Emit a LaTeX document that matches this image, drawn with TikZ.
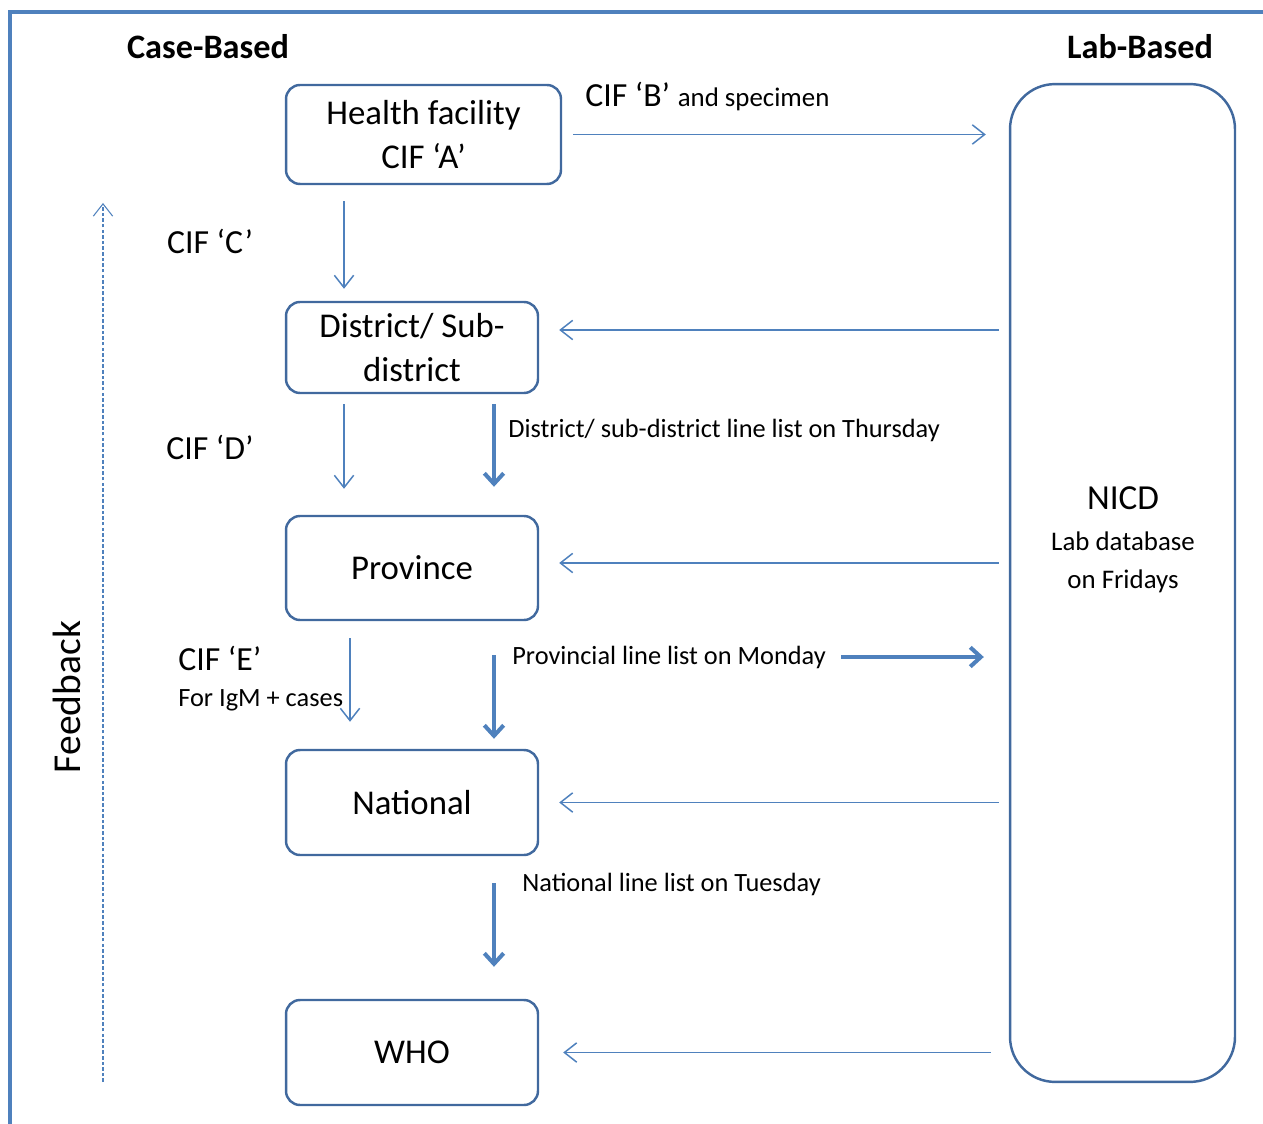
\documentclass[tikz,border=0pt]{standalone}
\usepackage{fontspec}
\setmainfont{Carlito}
\usetikzlibrary{positioning,arrows.meta}
\definecolor{frameblue}{RGB}{79,129,189}
\definecolor{boxblue}{RGB}{65,105,158}
\tikzset{
 stage/.style={draw=boxblue,line width=1.4pt,rounded corners=0.28cm,align=center,font=\fontsize{19.8}{25}\selectfont,inner sep=0pt},
 flow/.style={draw=frameblue,line width=0.85pt,-{Straight Barb[length=7pt,width=11pt]}},
 listflow/.style={draw=frameblue,line width=2.3pt,-{Straight Barb[length=6pt,width=11pt]}},
 cif/.style={font=\fontsize{19.2}{24}\selectfont,inner sep=0pt},
 note/.style={font=\fontsize{15}{18}\selectfont,inner sep=0pt},
 head/.style={font=\bfseries\fontsize{19.5}{24}\selectfont,inner sep=0pt}
}
\begin{document}
\begin{tikzpicture}[x=0.02cm,y=-0.02cm]
 \useasboundingbox (0,0) rectangle (1263,1124);
 \draw[frameblue,line width=2.3pt] (10,1124) -- (10,12) -- (1263,12);

 \node[head] (casehead) at (208,47) {Case-Based};
 \node[head] (labhead) at (1140,47) {Lab-Based};

 \node[stage,minimum width=5.5cm,minimum height=1.98cm] (hf) at (423.5,134.5) {Health facility\\CIF ‘A’};
 \node[stage,minimum width=5.04cm,minimum height=1.82cm] (dist) at (412,347.5) {District/ Sub-\\district};
 \node[stage,minimum width=5.04cm,minimum height=2.08cm] (prov) at (412,568) {Province};
 \node[stage,minimum width=5.04cm,minimum height=2.1cm] (nat) at (412,802.5) {National};
 \node[stage,minimum width=5.04cm,minimum height=2.1cm] (who) at (412,1052.5) {WHO};
 \node[stage,rounded corners=0.9cm,minimum width=4.5cm,minimum height=19.96cm] (nicd) at (1122.5,583) {};
 \node[align=center,font=\fontsize{15.3}{21.5}\selectfont,inner sep=0pt] (nicdtext) at (1123,540) {{\fontsize{20}{24}\selectfont NICD}\\[2pt]Lab database\\on Fridays};

 \node[cif,anchor=west] (cifb) at (585,97) {CIF ‘B’ {\fontsize{15.3}{18}\selectfont and specimen}};
 \node[cif] (cifc) at (210,241) {CIF ‘C’};
 \node[cif] (cifd) at (210,447) {CIF ‘D’};
 \node[cif,anchor=west] (cife) at (178,658) {CIF ‘E’};
 \node[note,anchor=west] (igm) at (178,700) {For IgM + cases};

 \node[note,anchor=west] (distlist) at (508,430) {District/ sub-district line list on Thursday};
 \node[note,anchor=west] (provlist) at (512,657) {Provincial line list on Monday};
 \node[note,anchor=west] (natlist) at (522,884) {National line list on Tuesday};

 \draw[flow,shorten <=0.22cm,shorten >=0.46cm] (hf.east) -- (nicd.west |- hf.east);
 \draw[flow,shorten <=0.32cm,shorten >=0.24cm] ([xshift=-1.36cm]dist.north |- hf.south) -- ([xshift=-1.36cm]dist.north);
 \draw[flow,shorten <=0.2cm,shorten >=0.52cm] ([xshift=-1.36cm]dist.south) -- ([xshift=-1.36cm]prov.north);
 \draw[listflow,shorten <=0.2cm,shorten >=0.56cm] ([xshift=1.64cm]dist.south) -- ([xshift=1.64cm]prov.north);
 \draw[flow,shorten <=0.34cm,shorten >=0.54cm] ([xshift=-1.24cm]prov.south) -- ([xshift=-1.24cm]nat.north);
 \draw[listflow,shorten <=0.68cm,shorten >=0.2cm] ([xshift=1.64cm]prov.south) -- ([xshift=1.64cm]nat.north);
 \draw[listflow,shorten <=0.3cm,shorten >=0.5cm] (provlist.east) -- (nicd.west |- provlist.east);
 \draw[listflow,shorten <=0.54cm,shorten >=0.64cm] ([xshift=1.64cm]nat.south) -- ([xshift=1.64cm]who.north);

 \coordinate (distin) at ([yshift=0.35cm]dist.east);
 \coordinate (provin) at ([yshift=0.1cm]prov.east);
 \draw[flow,shorten <=0.2cm,shorten >=0.4cm] (nicd.west |- distin) -- (distin);
 \draw[flow,shorten <=0.2cm,shorten >=0.4cm] (nicd.west |- provin) -- (provin);
 \draw[flow,shorten <=0.2cm,shorten >=0.4cm] (nicd.west |- nat.east) -- (nat.east);
 \draw[flow,shorten <=0.36cm,shorten >=0.48cm] (nicd.west |- who.east) -- (who.east);

 \coordinate (fbbottom) at (103,1082);
 \coordinate (fbtop) at (103,203);
 \draw[flow,line width=0.6pt,dash pattern=on 2pt off 1.2pt] (fbbottom) -- (fbtop);
 \node[font=\fontsize{22.5}{26}\selectfont,inner sep=0pt,rotate=90] (feedback) at (67,697) {Feedback};
\end{tikzpicture}
\end{document}
